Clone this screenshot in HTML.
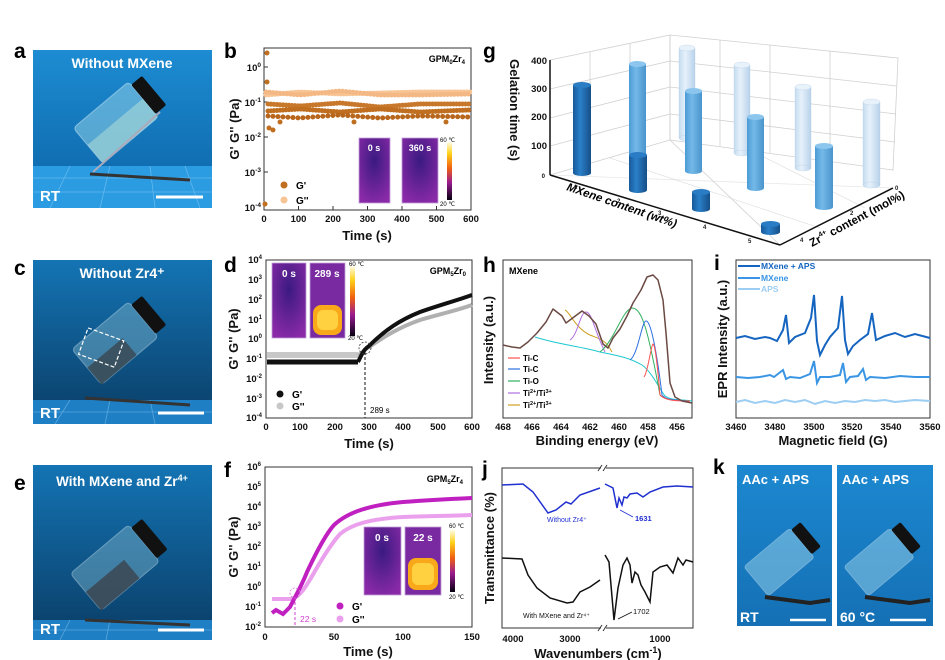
<!DOCTYPE html>
<html><head><meta charset="utf-8"><style>
html,body{margin:0;padding:0;background:#fff;}
svg{display:block;font-family:"Liberation Sans",Arial,sans-serif;}
.t{font-weight:bold;font-size:9.5px;fill:#111;}
.ax{font-weight:bold;font-size:13px;fill:#111;}
.L{font-weight:bold;font-size:21px;fill:#000;}
.fr{fill:none;stroke:#333;stroke-width:1;}
</style></head><body>
<svg width="945" height="660" viewBox="0 0 945 660" xmlns="http://www.w3.org/2000/svg">
<defs>
<linearGradient id="bgA" x1="0" y1="0" x2="0" y2="1"><stop offset="0" stop-color="#1d8cd2"/><stop offset="1" stop-color="#0c63a6"/></linearGradient>
<linearGradient id="bgC" x1="0" y1="0" x2="0" y2="1"><stop offset="0" stop-color="#1474b4"/><stop offset="1" stop-color="#0a3d66"/></linearGradient>
<linearGradient id="bgK" x1="0" y1="0" x2="0" y2="1"><stop offset="0" stop-color="#1c88d0"/><stop offset="1" stop-color="#1570b5"/></linearGradient>
<linearGradient id="cb" x1="0" y1="0" x2="0" y2="1"><stop offset="0" stop-color="#fffbe6"/><stop offset=".2" stop-color="#ffd21a"/><stop offset=".45" stop-color="#f06010"/><stop offset=".7" stop-color="#9a1a90"/><stop offset="1" stop-color="#050010"/></linearGradient>
<radialGradient id="th0" cx=".5" cy=".35" r=".7"><stop offset="0" stop-color="#3a1a80"/><stop offset="1" stop-color="#8a2aa8"/></radialGradient>
<radialGradient id="hot" cx=".5" cy=".5" r=".5"><stop offset="0" stop-color="#ffe060"/><stop offset=".6" stop-color="#ffb020"/><stop offset="1" stop-color="#e04010" stop-opacity="0"/></radialGradient>
<linearGradient id="cylD" x1="0" x2="1"><stop offset="0" stop-color="#175a9a"/><stop offset=".4" stop-color="#2a7fc8"/><stop offset="1" stop-color="#164f88"/></linearGradient>
<linearGradient id="cylM" x1="0" x2="1"><stop offset="0" stop-color="#4b9bd6"/><stop offset=".4" stop-color="#74b9e8"/><stop offset="1" stop-color="#4a94cc"/></linearGradient>
<linearGradient id="cylL" x1="0" x2="1"><stop offset="0" stop-color="#c4dcf0"/><stop offset=".4" stop-color="#e6f1fb"/><stop offset="1" stop-color="#b8d2ea"/></linearGradient>
</defs>

<!-- ============ PHOTO a ============ -->
<g>
<rect x="33" y="50" width="179" height="158" fill="url(#bgA)"/>
<rect x="33" y="166" width="179" height="42" fill="#2b9be2"/>
<g stroke="#7cc6f2" stroke-width="0.8" opacity=".7"><line x1="33" y1="178" x2="212" y2="178"/><line x1="33" y1="192" x2="212" y2="192"/><line x1="70" y1="166" x2="50" y2="208"/><line x1="110" y1="166" x2="100" y2="208"/><line x1="150" y1="166" x2="155" y2="208"/><line x1="185" y1="166" x2="200" y2="208"/></g>
<g transform="translate(118,122) rotate(-40)">
<rect x="-38" y="-24" width="72" height="46" rx="4" fill="#8fd0e8" opacity=".55" stroke="#d8f2fb" stroke-width="1.2"/>
<rect x="-38" y="-2" width="72" height="24" fill="#b8e4d8" opacity=".5"/>
<rect x="34" y="-20" width="14" height="38" rx="2" fill="#111"/>
</g>
<line x1="93" y1="172" x2="160" y2="112" stroke="#aab" stroke-width="2"/>
<path d="M90 174 L190 180" stroke="#333" stroke-width="3"/>
<text x="122" y="68" text-anchor="middle" font-weight="bold" font-size="14" fill="#fff">Without MXene</text>
<text x="40" y="201" font-weight="bold" font-size="15" fill="#fff">RT</text>
<line x1="156" y1="197" x2="203" y2="197" stroke="#fff" stroke-width="3"/>
</g>
<!-- ============ PHOTO c ============ -->
<g>
<rect x="33" y="260" width="179" height="164" fill="url(#bgC)"/>
<rect x="33" y="400" width="179" height="24" fill="#1f7fc4"/>
<g stroke="#6fb8e8" stroke-width="0.8" opacity=".7"><line x1="33" y1="412" x2="212" y2="412"/><line x1="70" y1="400" x2="55" y2="424"/><line x1="110" y1="400" x2="105" y2="424"/><line x1="150" y1="400" x2="155" y2="424"/></g>
<g transform="translate(118,342) rotate(-40)">
<rect x="-40" y="-24" width="74" height="46" rx="4" fill="#7fb6cc" opacity=".45" stroke="#cfe8f3" stroke-width="1.2"/>
<rect x="-40" y="0" width="46" height="22" fill="#3a4a55" opacity=".85"/>
<rect x="34" y="-20" width="14" height="38" rx="2" fill="#111"/>
</g>
<rect x="83" y="333" width="38" height="28" fill="none" stroke="#fff" stroke-dasharray="4 2" stroke-width="1.2" transform="rotate(20 100 345)"/>
<path d="M85 398 L190 405" stroke="#333" stroke-width="3"/>
<text x="122" y="278" text-anchor="middle" font-weight="bold" font-size="14" fill="#fff">Without Zr4⁺</text>
<text x="40" y="418" font-weight="bold" font-size="15" fill="#fff">RT</text>
<line x1="158" y1="413" x2="204" y2="413" stroke="#fff" stroke-width="3"/>
</g>
<!-- ============ PHOTO e ============ -->
<g>
<rect x="33" y="465" width="179" height="175" fill="url(#bgC)"/>
<rect x="33" y="620" width="179" height="20" fill="#1f7fc4"/>
<g stroke="#6fb8e8" stroke-width="0.8" opacity=".7"><line x1="33" y1="630" x2="212" y2="630"/><line x1="70" y1="620" x2="60" y2="640"/><line x1="110" y1="620" x2="106" y2="640"/></g>
<g transform="translate(118,565) rotate(-40)">
<rect x="-42" y="-24" width="76" height="48" rx="4" fill="#7fb6cc" opacity=".45" stroke="#cfe8f3" stroke-width="1.2"/>
<rect x="-42" y="0" width="50" height="24" fill="#3b4752" opacity=".85"/>
<rect x="34" y="-20" width="14" height="40" rx="2" fill="#111"/>
</g>
<path d="M85 620 L190 625" stroke="#333" stroke-width="3"/>
<text x="122" y="486" text-anchor="middle" font-weight="bold" font-size="13.5" fill="#fff">With MXene and Zr<tspan font-size="9" dy="-5">4+</tspan></text>
<text x="40" y="634" font-weight="bold" font-size="15" fill="#fff">RT</text>
<line x1="158" y1="630" x2="204" y2="630" stroke="#fff" stroke-width="3"/>
</g>

<!-- letters -->
<text class="L" x="14" y="58">a</text>
<text class="L" x="14" y="275">c</text>
<text class="L" x="14" y="490">e</text>
<text class="L" x="224" y="58">b</text>
<text class="L" x="224" y="272">d</text>
<text class="L" x="224" y="477">f</text>
<text class="L" x="483" y="58">g</text>
<text class="L" x="483" y="272">h</text>
<text class="L" x="714" y="270">i</text>
<text class="L" x="482" y="476">j</text>
<text class="L" x="713" y="474">k</text>

<!-- ============ b ============ -->
<g>
<rect x="264" y="48" width="207" height="162" class="fr"/>
<g stroke="#333" stroke-width="1"><line x1="264" y1="67" x2="268" y2="67"/><line x1="264" y1="102" x2="268" y2="102"/><line x1="264" y1="137" x2="268" y2="137"/><line x1="264" y1="172" x2="268" y2="172"/><line x1="298.5" y1="210" x2="298.5" y2="206"/><line x1="333" y1="210" x2="333" y2="206"/><line x1="367.5" y1="210" x2="367.5" y2="206"/><line x1="402" y1="210" x2="402" y2="206"/><line x1="436.5" y1="210" x2="436.5" y2="206"/></g>
<g class="t" text-anchor="end"><text x="261" y="71">10<tspan font-size="6.5" dy="-4">0</tspan></text><text x="261" y="106">10<tspan font-size="6.5" dy="-4">-1</tspan></text><text x="261" y="141">10<tspan font-size="6.5" dy="-4">-2</tspan></text><text x="261" y="176">10<tspan font-size="6.5" dy="-4">-3</tspan></text><text x="261" y="211">10<tspan font-size="6.5" dy="-4">-4</tspan></text></g>
<g class="t" text-anchor="middle"><text x="264" y="222">0</text><text x="298.5" y="222">100</text><text x="333" y="222">200</text><text x="367.5" y="222">300</text><text x="402" y="222">400</text><text x="436.5" y="222">500</text><text x="471" y="222">600</text></g>
<text class="ax" x="367" y="240" text-anchor="middle">Time (s)</text>
<text class="ax" transform="translate(239,129) rotate(-90)" text-anchor="middle">G' G'' (Pa)</text>
<text x="465" y="62" text-anchor="end" font-weight="bold" font-size="9">GPM<tspan font-size="6" dy="2">0</tspan><tspan dy="-2">Zr</tspan><tspan font-size="6" dy="2">4</tspan></text>
<polyline points="266,95 300,92 340,94 380,93 420,92 470,92" fill="none" stroke="#f7c595" stroke-width="5" stroke-dasharray="0 3" stroke-linecap="round"/>
<polyline points="266,92 300,95 340,91 380,95 420,95 470,94" fill="none" stroke="#f4b885" stroke-width="5" stroke-dasharray="0 3.5" stroke-linecap="round"/>
<polyline points="268,104 300,106 340,103 380,107 420,104 470,104" fill="none" stroke="#c8782a" stroke-width="5" stroke-dasharray="0 3" stroke-linecap="round"/>
<polyline points="268,111 300,109 340,112 380,109 420,112 470,110" fill="none" stroke="#c06f20" stroke-width="5" stroke-dasharray="0 3" stroke-linecap="round"/>
<polyline points="268,116 300,118 340,115 380,118 420,116 470,117" fill="none" stroke="#b8661c" stroke-width="5" stroke-dasharray="0 5" stroke-linecap="round"/>
<g fill="#c06f20"><circle cx="267" cy="53" r="2.5"/><circle cx="267" cy="82" r="2.5"/><circle cx="269" cy="128" r="2.5"/><circle cx="273" cy="130" r="2.5"/><circle cx="280" cy="122" r="2.5"/><circle cx="265" cy="204" r="2.5"/><circle cx="354" cy="122" r="2.5"/><circle cx="446" cy="122" r="2.5"/></g>
<circle cx="284" cy="185" r="3.5" fill="#c06f20"/><circle cx="284" cy="200" r="3.5" fill="#f7c595"/>
<text x="296" y="189" font-weight="bold" font-size="10">G'</text><text x="296" y="204" font-weight="bold" font-size="10">G''</text>
<rect x="359" y="138" width="31" height="65" fill="url(#th0)" stroke="#c0a0d8" stroke-width=".8"/>
<rect x="402" y="138" width="36" height="65" fill="url(#th0)" stroke="#c0a0d8" stroke-width=".8"/>
<text x="374" y="151" text-anchor="middle" fill="#fff" font-weight="bold" font-size="9">0 s</text>
<text x="420" y="151" text-anchor="middle" fill="#fff" font-weight="bold" font-size="9">360 s</text>
<rect x="447" y="142" width="5" height="58" fill="url(#cb)"/>
<text x="440" y="142" font-size="6">60 ℃</text><text x="440" y="206" font-size="6">20 ℃</text>
</g>

<!-- ============ d ============ -->
<g>
<rect x="266" y="260" width="206" height="158" class="fr"/>
<g class="t" text-anchor="end" font-size="8.5">
<text x="262" y="263">10<tspan font-size="6" dy="-4">4</tspan></text><text x="262" y="283">10<tspan font-size="6" dy="-4">3</tspan></text><text x="262" y="303">10<tspan font-size="6" dy="-4">2</tspan></text><text x="262" y="323">10<tspan font-size="6" dy="-4">1</tspan></text><text x="262" y="342">10<tspan font-size="6" dy="-4">0</tspan></text><text x="262" y="362">10<tspan font-size="6" dy="-4">-1</tspan></text><text x="262" y="382">10<tspan font-size="6" dy="-4">-2</tspan></text><text x="262" y="402">10<tspan font-size="6" dy="-4">-3</tspan></text><text x="262" y="421">10<tspan font-size="6" dy="-4">-4</tspan></text></g>
<g class="t" text-anchor="middle"><text x="266" y="430">0</text><text x="300" y="430">100</text><text x="335" y="430">200</text><text x="369" y="430">300</text><text x="403" y="430">400</text><text x="438" y="430">500</text><text x="472" y="430">600</text></g>
<text class="ax" x="369" y="448" text-anchor="middle">Time (s)</text>
<text class="ax" transform="translate(238,339) rotate(-90)" text-anchor="middle">G' G'' (Pa)</text>
<text x="466" y="274" text-anchor="end" font-weight="bold" font-size="9">GPM<tspan font-size="6" dy="2">5</tspan><tspan dy="-2">Zr</tspan><tspan font-size="6" dy="2">0</tspan></text>
<path d="M267 355 L358 355" stroke="#c8c8c8" stroke-width="6" fill="none"/>
<path d="M358 355 C362 354 363 350 369 347 C385 336 400 327 420 320 C440 314 455 311 472 305" stroke="#b0b0b0" stroke-width="4" fill="none"/>
<path d="M267 362 L358 362" stroke="#111" stroke-width="5" fill="none"/>
<path d="M358 362 L361 356 C364 350 366 348 369 346 C385 330 400 320 420 312 C440 305 455 301 472 295" stroke="#111" stroke-width="4" fill="none"/>
<circle cx="365" cy="348" r="6" fill="none" stroke="#333" stroke-width=".8" stroke-dasharray="2 1.5"/>
<line x1="365" y1="352" x2="365" y2="418" stroke="#111" stroke-dasharray="3 2" stroke-width="1"/>
<text x="370" y="413" font-size="8">289 s</text>
<circle cx="280" cy="394" r="3.5" fill="#111"/><circle cx="280" cy="406" r="3.5" fill="#c8c8c8"/>
<text x="292" y="398" font-weight="bold" font-size="10">G'</text><text x="292" y="410" font-weight="bold" font-size="10">G''</text>
<rect x="272" y="263" width="34" height="75" fill="url(#th0)" stroke="#c0a0d8" stroke-width=".8"/>
<rect x="310" y="263" width="35" height="75" fill="#7a2aa0" stroke="#c0a0d8" stroke-width=".8"/>
<rect x="313" y="305" width="29" height="30" rx="8" fill="#f8a818"/>
<rect x="317" y="310" width="21" height="20" rx="6" fill="#ffd040"/>
<text x="289" y="277" text-anchor="middle" fill="#fff" font-weight="bold" font-size="10">0 s</text>
<text x="327" y="277" text-anchor="middle" fill="#fff" font-weight="bold" font-size="10">289 s</text>
<rect x="350" y="266" width="5" height="70" fill="url(#cb)"/>
<text x="349" y="266" font-size="6">60 ℃</text><text x="348" y="340" font-size="6">20 ℃</text>
</g>

<!-- ============ f ============ -->
<g>
<rect x="265" y="467" width="207" height="160" class="fr"/>
<g class="t" text-anchor="end" font-size="8.5">
<text x="261" y="470">10<tspan font-size="6" dy="-4">6</tspan></text><text x="261" y="490">10<tspan font-size="6" dy="-4">5</tspan></text><text x="261" y="510">10<tspan font-size="6" dy="-4">4</tspan></text><text x="261" y="530">10<tspan font-size="6" dy="-4">3</tspan></text><text x="261" y="550">10<tspan font-size="6" dy="-4">2</tspan></text><text x="261" y="570">10<tspan font-size="6" dy="-4">1</tspan></text><text x="261" y="590">10<tspan font-size="6" dy="-4">0</tspan></text><text x="261" y="610">10<tspan font-size="6" dy="-4">-1</tspan></text><text x="261" y="630">10<tspan font-size="6" dy="-4">-2</tspan></text></g>
<g class="t" text-anchor="middle"><text x="265" y="640">0</text><text x="334" y="640">50</text><text x="403" y="640">100</text><text x="472" y="640">150</text></g>
<text class="ax" x="368" y="656" text-anchor="middle">Time (s)</text>
<text class="ax" transform="translate(238,547) rotate(-90)" text-anchor="middle">G' G'' (Pa)</text>
<text x="463" y="482" text-anchor="end" font-weight="bold" font-size="9">GPM<tspan font-size="6" dy="2">5</tspan><tspan dy="-2">Zr</tspan><tspan font-size="6" dy="2">4</tspan></text>
<path d="M272 599 L292 599 C300 596 305 588 311 578 C320 562 330 545 340 534 C352 524 370 519 403 517 C430 516 450 516 472 515" stroke="#eaa0ec" stroke-width="4" fill="none"/>
<path d="M272 613 L276 610 L283 614 L290 607 C296 595 302 585 307 572 C315 555 325 535 334 525 C348 512 370 505 403 502 C430 500 450 499 472 498" stroke="#c020c0" stroke-width="4" fill="none"/>
<circle cx="295" cy="593" r="5" fill="none" stroke="#d070d0" stroke-width=".8" stroke-dasharray="2 1.5"/>
<line x1="295" y1="597" x2="295" y2="627" stroke="#d040d0" stroke-dasharray="3 2" stroke-width="1"/>
<text x="300" y="622" font-size="8.5" fill="#d040d0">22 s</text>
<circle cx="340" cy="606" r="3.5" fill="#c020c0"/><circle cx="340" cy="619" r="3.5" fill="#eaa0ec"/>
<text x="352" y="610" font-weight="bold" font-size="10">G'</text><text x="352" y="623" font-weight="bold" font-size="10">G''</text>
<rect x="364" y="527" width="37" height="68" fill="url(#th0)" stroke="#c0a0d8" stroke-width=".8"/>
<rect x="405" y="527" width="36" height="68" fill="#7a2aa0" stroke="#c0a0d8" stroke-width=".8"/>
<rect x="408" y="558" width="30" height="32" rx="8" fill="#f8a818"/>
<rect x="412" y="563" width="22" height="22" rx="6" fill="#ffd040"/>
<text x="382" y="541" text-anchor="middle" fill="#fff" font-weight="bold" font-size="10">0 s</text>
<text x="423" y="541" text-anchor="middle" fill="#fff" font-weight="bold" font-size="10">22 s</text>
<rect x="450" y="530" width="5" height="62" fill="url(#cb)"/>
<text x="449" y="528" font-size="6">60 ℃</text><text x="449" y="599" font-size="6">20 ℃</text>
</g>

<!-- ============ g ============ -->
<g>
<g stroke="#d0d0d0" stroke-width=".8" fill="none">
<polygon points="550,60 670,35 670,140 550,175"/>
<polygon points="670,35 898,58 893,170 670,140"/>
<line x1="590" y1="52" x2="590" y2="163"/><line x1="630" y1="43" x2="630" y2="152"/>
<line x1="720" y1="40" x2="720" y2="146"/><line x1="770" y1="45" x2="770" y2="153"/><line x1="830" y1="51" x2="830" y2="161"/>
<line x1="550" y1="89" x2="670" y2="61"/><line x1="550" y1="118" x2="670" y2="87"/><line x1="550" y1="146" x2="670" y2="114"/>
<line x1="670" y1="61" x2="897" y2="86"/><line x1="670" y1="87" x2="896" y2="114"/><line x1="670" y1="114" x2="895" y2="142"/>
<line x1="670" y1="140" x2="780" y2="245"/><line x1="550" y1="175" x2="893" y2="188" opacity=".5"/>
<line x1="610" y1="158" x2="820" y2="228" opacity=".6"/><line x1="740" y1="145" x2="865" y2="208" opacity=".6"/>
</g>
<g stroke="#111" stroke-width="1.5" fill="none"><line x1="550" y1="60" x2="550" y2="175"/><line x1="550" y1="175" x2="780" y2="245"/><line x1="780" y1="245" x2="893" y2="188"/></g>
<g class="t" text-anchor="end" font-size="10"><text x="547" y="64">400</text><text x="547" y="92">300</text><text x="547" y="120">200</text><text x="547" y="149">100</text><text x="545" y="178" font-size="6">0</text></g>
<text class="ax" transform="translate(510,110) rotate(90)" text-anchor="middle" font-size="14">Gelation time (s)</text>
<!-- back row light -->
<g fill="url(#cylL)" stroke="#b0c8e0" stroke-width=".3">
<rect x="679" y="48" width="16" height="90"/><ellipse cx="687" cy="138" rx="8" ry="3"/><ellipse cx="687" cy="48" rx="8" ry="3" fill="#e8f2fb"/>
<rect x="734" y="65" width="16" height="88"/><ellipse cx="742" cy="153" rx="8" ry="3"/><ellipse cx="742" cy="65" rx="8" ry="3" fill="#e8f2fb"/>
<rect x="795" y="87" width="16" height="81"/><ellipse cx="803" cy="168" rx="8" ry="3"/><ellipse cx="803" cy="87" rx="8" ry="3" fill="#e8f2fb"/>
<rect x="863" y="102" width="17" height="83"/><ellipse cx="871.5" cy="185" rx="8.5" ry="3"/><ellipse cx="871.5" cy="102" rx="8.5" ry="3" fill="#e8f2fb"/>
</g>
<g fill="url(#cylM)">
<rect x="629" y="64" width="17" height="93"/><ellipse cx="637.5" cy="157" rx="8.5" ry="3"/><ellipse cx="637.5" cy="64" rx="8.5" ry="3" fill="#8cc6ee"/>
<rect x="685" y="91" width="17" height="80"/><ellipse cx="693.5" cy="171" rx="8.5" ry="3"/><ellipse cx="693.5" cy="91" rx="8.5" ry="3" fill="#8cc6ee"/>
<rect x="747" y="117" width="17" height="71"/><ellipse cx="755.5" cy="188" rx="8.5" ry="3"/><ellipse cx="755.5" cy="117" rx="8.5" ry="3" fill="#8cc6ee"/>
<rect x="815" y="146" width="18" height="61"/><ellipse cx="824" cy="207" rx="9" ry="3"/><ellipse cx="824" cy="146" rx="9" ry="3" fill="#8cc6ee"/>
</g>
<g fill="url(#cylD)">
<rect x="573" y="85" width="18" height="88"/><ellipse cx="582" cy="173" rx="9" ry="3"/><ellipse cx="582" cy="85" rx="9" ry="3" fill="#2a7dc4"/>
<rect x="629" y="155" width="18" height="35"/><ellipse cx="638" cy="190" rx="9" ry="3"/><ellipse cx="638" cy="155" rx="9" ry="3" fill="#2a7dc4"/>
<rect x="692" y="192" width="18" height="17"/><ellipse cx="701" cy="209" rx="9" ry="3"/><ellipse cx="701" cy="192" rx="9" ry="3" fill="#2a7dc4"/>
<rect x="761" y="224" width="19" height="8"/><ellipse cx="770.5" cy="232" rx="9.5" ry="3"/><ellipse cx="770.5" cy="224" rx="9.5" ry="3" fill="#2a7dc4"/>
</g>
<g font-size="6" fill="#222" font-weight="bold"><text x="574" y="189">1</text><text x="617" y="203">2</text><text x="658" y="215">3</text><text x="703" y="229">4</text><text x="748" y="243">5</text><text x="895" y="190">0</text><text x="850" y="215">2</text><text x="800" y="242">4</text></g>
<text transform="translate(566,190) rotate(19)" font-weight="bold" font-style="italic" font-size="11.5">MXene content (wt%)</text>
<text transform="translate(812,247) rotate(-28)" font-weight="bold" font-size="11.5">Zr<tspan font-size="7" dy="-5">4+</tspan><tspan dy="5"> content (mol%)</tspan></text>
</g>

<!-- ============ h ============ -->
<g>
<rect x="503" y="260" width="189" height="158" class="fr"/>
<g class="t" text-anchor="middle"><text x="503" y="430">468</text><text x="532" y="430">466</text><text x="561" y="430">464</text><text x="590" y="430">462</text><text x="619" y="430">460</text><text x="648" y="430">458</text><text x="677" y="430">456</text></g>
<text class="ax" x="597" y="445" text-anchor="middle">Binding energy (eV)</text>
<text class="ax" transform="translate(493,340) rotate(-90)" text-anchor="middle">Intensity (a.u.)</text>
<text x="509" y="274" font-weight="bold" font-size="9">MXene</text>
<path d="M535 337 C560 345 580 346 600 352 C620 356 630 358 642 365 C652 372 660 390 665 396 C672 401 680 399 692 401" fill="none" stroke="#20c8d0" stroke-width="1"/>
<path d="M565 310 C570 312 575 328 590 335 C600 339 606 340 612 352" fill="none" stroke="#d0a020" stroke-width="1"/>
<path d="M570 340 C578 335 580 312 586 312 C592 312 594 330 605 352" fill="none" stroke="#b070e0" stroke-width="1"/>
<path d="M600 352 C615 340 622 310 632 308 C642 308 648 330 660 395 C665 400 672 400 690 401" fill="none" stroke="#30b060" stroke-width="1"/>
<path d="M630 360 C638 355 642 320 646 321 C650 320 656 345 662 395 C666 400 672 400 690 401" fill="none" stroke="#3070e0" stroke-width="1"/>
<path d="M644 377 C648 372 651 345 653 344 C655 345 657 360 660 395 C665 400 672 401 690 401" fill="none" stroke="#ff5050" stroke-width="1"/>
<polyline points="503,345 512,347 520,348 528,342 537,333 546,322 553,309 562,316 566,323 574,317 582,311 589,316 596,324 603,344 608,348 613,338 620,329 627,316 633,303 641,290 647,277 653,275 658,280 663,300 666,333 670,383 675,397 682,401 692,403" fill="none" stroke="#6b4a44" stroke-width="1.5" stroke-linejoin="round"/>
<g stroke-width="1.2"><line x1="508" y1="358" x2="520" y2="358" stroke="#ff5050"/><line x1="508" y1="369" x2="520" y2="369" stroke="#3070e0"/><line x1="508" y1="381" x2="520" y2="381" stroke="#30b060"/><line x1="508" y1="393" x2="520" y2="393" stroke="#b070e0"/><line x1="508" y1="405" x2="520" y2="405" stroke="#d0a020"/></g>
<g font-size="8" font-weight="bold"><text x="523" y="361">Ti-C</text><text x="523" y="372">Ti-C</text><text x="523" y="384">Ti-O</text><text x="523" y="396">Ti<tspan font-size="5.5" dy="-3">2+</tspan><tspan dy="3">/Ti</tspan><tspan font-size="5.5" dy="-3">3+</tspan></text><text x="523" y="408">Ti<tspan font-size="5.5" dy="-3">2+</tspan><tspan dy="3">/Ti</tspan><tspan font-size="5.5" dy="-3">3+</tspan></text></g>
</g>

<!-- ============ i ============ -->
<g>
<rect x="736" y="260" width="194" height="158" class="fr"/>
<g class="t" text-anchor="middle"><text x="736" y="430">3460</text><text x="775" y="430">3480</text><text x="814" y="430">3500</text><text x="852" y="430">3520</text><text x="891" y="430">3540</text><text x="930" y="430">3560</text></g>
<text class="ax" x="833" y="445" text-anchor="middle">Magnetic field (G)</text>
<text class="ax" transform="translate(727,339) rotate(-90)" text-anchor="middle">EPR Intensity (a.u.)</text>
<polyline points="736,402 745,400 755,403 765,401 775,403 785,400 795,402 805,400 815,404 825,401 835,403 845,401 855,402 865,400 875,401 885,400 895,402 905,401 915,400 930,401" fill="none" stroke="#9ccdf2" stroke-width="2"/>
<polyline points="736,377 748,378 760,377 770,375 774,377 783,370 786,379 790,377 800,378 810,374 814,361 817,383 820,377 830,377 840,375 843,363 846,382 850,377 858,376 863,369 866,380 870,377 885,378 900,376 915,377 930,377" fill="none" stroke="#3a95e4" stroke-width="2"/>
<polyline points="736,338 745,336 755,339 765,337 770,338 777,341 783,330 786,315 789,343 795,337 805,333 811,318 814,295 817,341 820,355 825,345 830,337 838,328 842,296 845,340 848,354 853,346 860,340 868,334 872,313 876,340 885,336 895,333 905,337 915,334 930,338" fill="none" stroke="#1565c0" stroke-width="2"/>
<g stroke-width="2"><line x1="738" y1="266" x2="760" y2="266" stroke="#1565c0"/><line x1="738" y1="278" x2="760" y2="278" stroke="#3a95e4"/><line x1="738" y1="289" x2="760" y2="289" stroke="#9ccdf2"/></g>
<g font-size="8.5" font-weight="bold"><text x="761" y="269" fill="#1565c0">MXene + APS</text><text x="761" y="281" fill="#3a95e4">MXene</text><text x="761" y="292" fill="#9ccdf2">APS</text></g>
</g>

<!-- ============ j ============ -->
<g>
<polyline points="601,468 502,468 502,628 601,628" fill="none" stroke="#333"/>
<polyline points="606,468 693,468 693,628 606,628" fill="none" stroke="#333"/>
<g stroke="#333"><line x1="598" y1="471" x2="602" y2="465"/><line x1="603" y1="471" x2="607" y2="465"/><line x1="598" y1="631" x2="602" y2="625"/><line x1="603" y1="631" x2="607" y2="625"/></g>
<g class="t" text-anchor="middle"><text x="513" y="642">4000</text><text x="570" y="642">3000</text><text x="660" y="642">1000</text></g>
<text class="ax" x="598" y="658" text-anchor="middle">Wavenumbers (cm<tspan font-size="9" dy="-5">-1</tspan><tspan dy="5">)</tspan></text>
<text class="ax" transform="translate(494,548) rotate(-90)" text-anchor="middle">Transmittance (%)</text>
<polyline points="502,485 523,484 533,492 548,513 556,510 566,502 571,504 580,495 600,488" fill="none" stroke="#2030d0" stroke-width="1.5"/>
<polyline points="605,484 613,488 617,508 619,498 622,505 624,497 627,498 630,494 637,493 643,497 650,492 663,487 677,486 693,487" fill="none" stroke="#2030d0" stroke-width="1.5"/>
<polyline points="502,558 522,559 528,575 537,588 550,598 567,603 573,602 580,592 590,587 600,580" fill="none" stroke="#111" stroke-width="1.5"/>
<polyline points="605,555 609,562 614,620 618,588 623,565 627,558 630,565 632,583 635,572 638,575 641,585 645,592 650,602 653,572 660,567 667,565 673,573 678,558 683,565 686,560 693,562" fill="none" stroke="#111" stroke-width="1.5"/>
<text x="547" y="522" font-size="7" fill="#2030d0">Without Zr4⁺</text>
<text x="635" y="521" font-size="7.5" font-weight="bold" fill="#2030d0">1631</text>
<line x1="633" y1="517" x2="620" y2="510" stroke="#2030d0" stroke-width=".8"/>
<text x="523" y="618" font-size="7" fill="#111">With MXene and Zr⁴⁺</text>
<text x="633" y="614" font-size="7.5" fill="#111">1702</text>
<line x1="632" y1="612" x2="618" y2="619" stroke="#111" stroke-width=".8"/>
</g>

<!-- ============ k ============ -->
<g>
<rect x="737" y="465" width="95" height="161" fill="url(#bgK)"/>
<rect x="837" y="465" width="96" height="161" fill="url(#bgK)"/>
<g transform="translate(780,560) rotate(-40)"><rect x="-32" y="-18" width="60" height="38" rx="3" fill="#a8dcef" opacity=".45" stroke="#e0f4fb"/><rect x="28" y="-16" width="12" height="32" rx="2" fill="#111"/></g>
<g transform="translate(880,560) rotate(-40)"><rect x="-32" y="-18" width="60" height="38" rx="3" fill="#a8dcef" opacity=".45" stroke="#e0f4fb"/><rect x="28" y="-16" width="12" height="32" rx="2" fill="#111"/></g>
<path d="M765 597 L810 603 L830 600" stroke="#222" stroke-width="4" fill="none"/>
<path d="M865 597 L910 603 L930 600" stroke="#222" stroke-width="4" fill="none"/>
<text x="742" y="484" font-weight="bold" font-size="13" fill="#fff">AAc  + APS</text>
<text x="842" y="484" font-weight="bold" font-size="13" fill="#fff">AAc  + APS</text>
<text x="740" y="622" font-weight="bold" font-size="14" fill="#fff">RT</text>
<text x="840" y="622" font-weight="bold" font-size="14" fill="#fff">60 °C</text>
<line x1="790" y1="620" x2="826" y2="620" stroke="#fff" stroke-width="2.5"/>
<line x1="890" y1="620" x2="926" y2="620" stroke="#fff" stroke-width="2.5"/>
</g>
</svg>
</body></html>
